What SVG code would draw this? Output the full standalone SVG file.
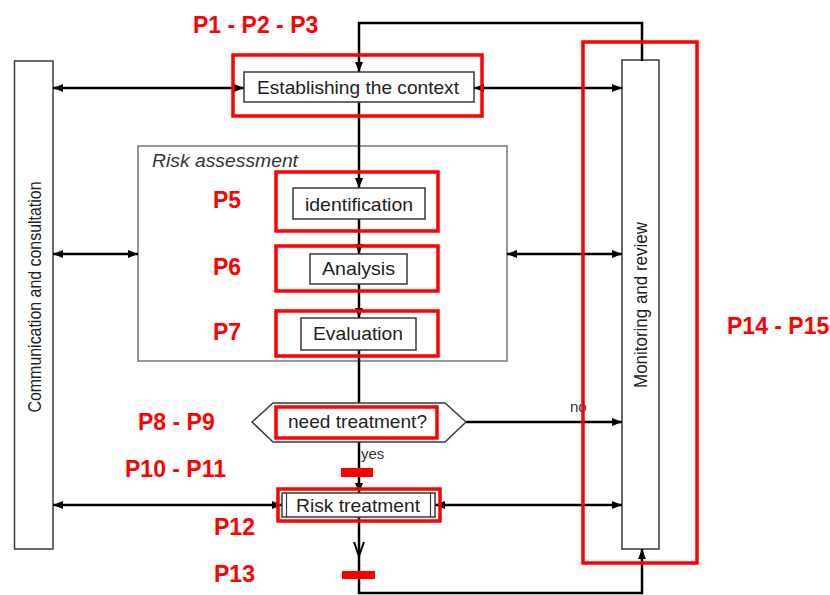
<svg xmlns="http://www.w3.org/2000/svg" width="830" height="595" viewBox="0 0 830 595">
  <style>
    .box { fill: #ffffff; stroke: #3a3a3a; stroke-width: 1.5; }
    .frame { fill: none; stroke: #777777; stroke-width: 1.5; }
    .lbl { font-family: "Liberation Sans", Arial, sans-serif; font-size: 19px; fill: #222222; text-anchor: middle; }
    .small { font-family: "Liberation Sans", Arial, sans-serif; font-size: 15px; fill: #333333; }
    .side { font-family: "Liberation Sans", Arial, sans-serif; font-size: 18px; fill: #222222; text-anchor: middle; }
    .title { font-family: "Liberation Sans", Arial, sans-serif; font-size: 18px; font-style: italic; fill: #333333; }
    .wire { fill: none; stroke: #000000; stroke-width: 2.5; }
    .hl { fill: none; stroke: #ff0000; stroke-width: 3.5; }
    .bar { fill: #ff0000; }
    .tag { font-family: "Liberation Sans", Arial, sans-serif; font-size: 23px; font-weight: bold; fill: #ff0000; }
  </style>
  <defs>
    <marker id="arr" markerUnits="userSpaceOnUse" markerWidth="10" markerHeight="8" refX="10" refY="4" orient="auto-start-reverse">
      <path d="M0,0 L10,4 L0,8 z" fill="#000000"/>
    </marker>
  </defs>

  <rect width="830" height="595" fill="#ffffff"/>

  <!-- side bars -->
  <g id="communication">
    <rect class="box" x="14.5" y="61" width="38.5" height="488"/>
    <text class="side" transform="translate(41,297) rotate(-90)" textLength="231" lengthAdjust="spacingAndGlyphs">Communication and consultation</text>
  </g>
  <g id="monitoring">
    <rect class="box" x="622" y="60" width="37" height="489"/>
    <text class="side" transform="translate(647,305) rotate(-90)" textLength="166" lengthAdjust="spacingAndGlyphs">Monitoring and review</text>
  </g>

  <!-- risk assessment frame -->
  <g id="risk-assessment">
    <rect class="frame" x="138" y="146" width="369" height="215"/>
    <text class="title" x="152" y="167" textLength="146" lengthAdjust="spacingAndGlyphs">Risk assessment</text>
  </g>

  <!-- connectors -->
  <g id="connectors">
    <path class="wire" d="M642,61 V23 H359 V72" marker-end="url(#arr)"/>
    <path class="wire" d="M359,102 V188" marker-end="url(#arr)"/>
    <path class="wire" d="M359,219 V254" marker-end="url(#arr)"/>
    <path class="wire" d="M359,284 V318" marker-end="url(#arr)"/>
    <path class="wire" d="M359,350 V403"/>
    <path class="wire" d="M359,442 V493" marker-end="url(#arr)"/>
    <path class="wire" d="M359,517 V593 H642 V549" marker-end="url(#arr)"/>
    <path d="M354,542 L359,556 L364,542" fill="none" stroke="#000000" stroke-width="2"/>
    <path class="wire" d="M466,422 H622" marker-end="url(#arr)"/>
    <!-- two-way links to communication -->
    <path class="wire" d="M53,88 H244" marker-start="url(#arr)" marker-end="url(#arr)"/>
    <path class="wire" d="M53,254 H138" marker-start="url(#arr)" marker-end="url(#arr)"/>
    <path class="wire" d="M53,505 H282" marker-start="url(#arr)" marker-end="url(#arr)"/>
    <!-- two-way links to monitoring -->
    <path class="wire" d="M474,88 H622" marker-start="url(#arr)" marker-end="url(#arr)"/>
    <path class="wire" d="M507,254 H622" marker-start="url(#arr)" marker-end="url(#arr)"/>
    <path class="wire" d="M435,505 H622" marker-start="url(#arr)" marker-end="url(#arr)"/>
  </g>

  <!-- process nodes -->
  <g id="context">
    <rect class="box" x="244" y="72" width="230" height="30"/>
    <text class="lbl" x="358" y="94" textLength="202" lengthAdjust="spacingAndGlyphs">Establishing the context</text>
  </g>
  <g id="identification">
    <rect class="box" x="293" y="188" width="132" height="31"/>
    <text class="lbl" x="359" y="211" textLength="108" lengthAdjust="spacingAndGlyphs">identification</text>
  </g>
  <g id="analysis">
    <rect class="box" x="310" y="254" width="97" height="30"/>
    <text class="lbl" x="358.5" y="275" textLength="73" lengthAdjust="spacingAndGlyphs">Analysis</text>
  </g>
  <g id="evaluation">
    <rect class="box" x="301" y="318" width="115" height="32"/>
    <text class="lbl" x="358" y="340" textLength="90" lengthAdjust="spacingAndGlyphs">Evaluation</text>
  </g>
  <g id="decision">
    <polygon class="box" points="252,422 273,403 445,403 466,422 445,442 273,442"/>
    <text class="lbl" x="357.5" y="428" textLength="139" lengthAdjust="spacingAndGlyphs">need treatment?</text>
    <text class="small" x="570" y="412">no</text>
    <text class="small" x="361" y="459">yes</text>
  </g>
  <g id="treatment">
    <rect class="box" x="282" y="493" width="153" height="24"/>
    <line x1="286.5" y1="493" x2="286.5" y2="517" stroke="#3a3a3a" stroke-width="1.2"/>
    <line x1="430.5" y1="493" x2="430.5" y2="517" stroke="#3a3a3a" stroke-width="1.2"/>
    <text class="lbl" x="358" y="512" textLength="124" lengthAdjust="spacingAndGlyphs">Risk treatment</text>
  </g>

  <!-- highlight frames, markers and tags -->
  <g id="highlights">
    <rect class="hl" x="233" y="55" width="249" height="61"/>
    <rect class="hl" x="276" y="172" width="162" height="59"/>
    <rect class="hl" x="276" y="246" width="162" height="45"/>
    <rect class="hl" x="276" y="311" width="162" height="45"/>
    <rect class="hl" x="276" y="407" width="161" height="31"/>
    <rect class="hl" x="278" y="489" width="162" height="32"/>
    <rect class="hl" x="583" y="42" width="114" height="521"/>
    <rect class="bar" x="341" y="468" width="32" height="9"/>
    <rect class="bar" x="342" y="571" width="33" height="8"/>
    <text class="tag" x="193" y="33">P1 - P2 - P3</text>
    <text class="tag" x="213" y="208">P5</text>
    <text class="tag" x="213" y="275">P6</text>
    <text class="tag" x="213" y="340">P7</text>
    <text class="tag" x="138" y="430">P8 - P9</text>
    <text class="tag" x="125" y="477">P10 - P11</text>
    <text class="tag" x="214" y="535">P12</text>
    <text class="tag" x="214" y="582">P13</text>
    <text class="tag" x="727" y="334">P14 - P15</text>
  </g>
</svg>
